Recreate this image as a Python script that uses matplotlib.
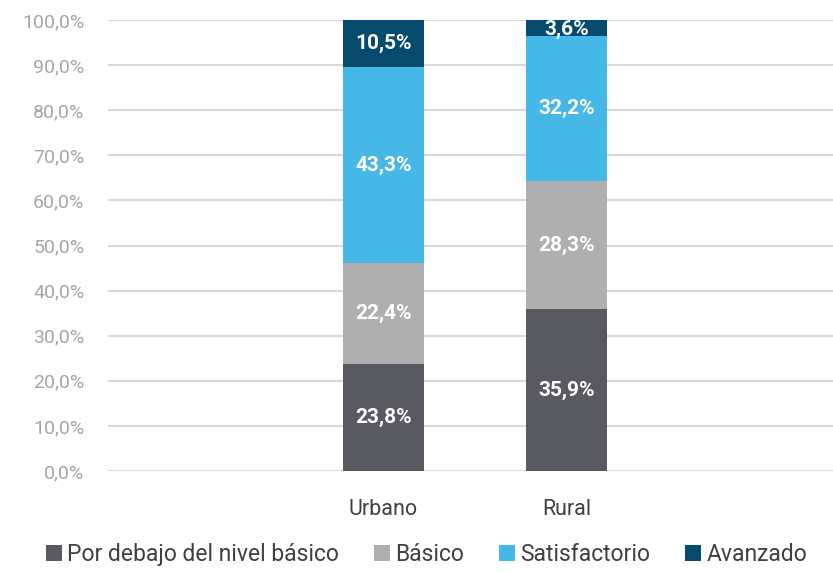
import numpy as np
import matplotlib.pyplot as plt
from matplotlib.ticker import FuncFormatter

plt.rcParams['font.family'] = ['Roboto', 'DejaVu Sans']

categorias = ["Urbano", "Rural"]
niveles = ["Por debajo del nivel básico", "Básico", "Satisfactorio", "Avanzado"]
por_debajo = [23.8, 35.9]
basico = [22.4, 28.3]
satisfactorio = [43.3, 32.2]
avanzado = [10.5, 3.6]
colores = ["#595961", "#b0afaf", "#45b8e8", "#064b6d"]

series = [por_debajo, basico, satisfactorio, avanzado]

fig = plt.figure(figsize=(8.33, 5.72), dpi=100)
ax = fig.add_axes([0.1297, 0.1766, 0.8703, 0.7884])

x = np.arange(len(categorias))
bottom = np.zeros(len(categorias))
for nombre, vals, col in zip(niveles, series, colores):
    vals = np.array(vals)
    ax.bar(x, vals, 0.44, bottom=bottom, color=col, label=nombre, zorder=3)
    for xi, b, v in zip(x, bottom, vals):
        yy = b + v / 2
        if v < 5:
            yy = b + v / 2 - 0.3
        ax.text(xi, yy, f"{v:.1f}%".replace(".", ","), ha="center", va="center",
                color="white", fontsize=15, fontweight="bold", zorder=4)
    bottom += vals

ax.set_ylim(0, 100)
ax.set_xlim(-1.505, 2.456)
ax.set_yticks(np.arange(0, 101, 10))
ax.yaxis.set_major_formatter(FuncFormatter(lambda v, p: f"{v:.1f}%".replace(".", ",")))
ax.set_xticks(x)
ax.set_xticklabels(categorias)
ax.tick_params(axis="y", length=0, labelsize=14, labelcolor="#a6a6a6", pad=17)
ax.tick_params(axis="x", length=0, labelsize=15.5, labelcolor="#404040", pad=20)
ax.grid(axis="y", color="#d9d9d9", lw=1.5, zorder=0)
for s in ax.spines.values():
    s.set_visible(False)

leg = fig.legend(loc="lower center", bbox_to_anchor=(0.512, -0.025), ncol=4, frameon=False,
                 fontsize=16.5, handlelength=0.7, handleheight=0.7, handletextpad=0.25,
                 columnspacing=1.5)
for t in leg.get_texts():
    t.set_color("#404040")

fig.savefig("out.png", dpi=100)
